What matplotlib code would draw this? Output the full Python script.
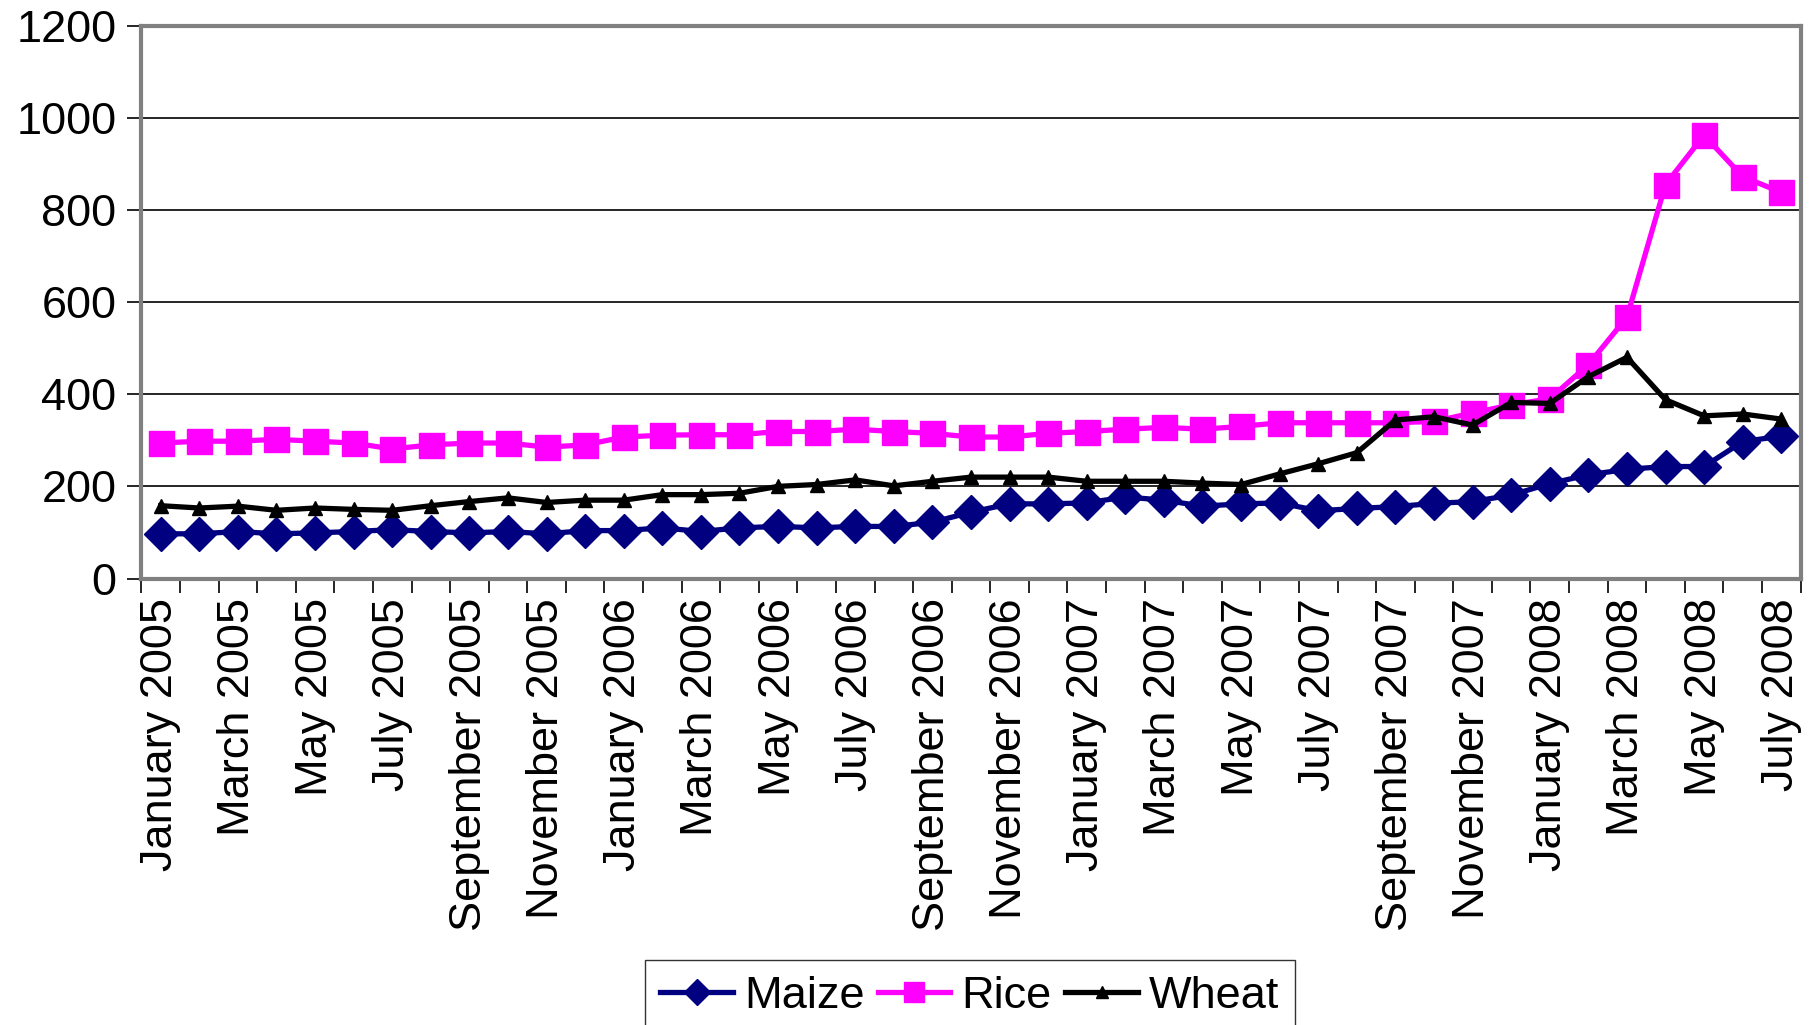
import numpy as np
import matplotlib
matplotlib.use("Agg")
import matplotlib.pyplot as plt

plt.rcParams['font.family'] = ['Liberation Sans', 'DejaVu Sans']

month_names = ["January", "February", "March", "April", "May", "June", "July",
               "August", "September", "October", "November", "December"]
months = [f"{m} {y}" for y in (2005, 2006, 2007, 2008) for m in month_names][:43]

maize = [97, 97, 102, 97, 99, 102, 106, 102, 99, 102, 97, 104, 104, 110,
         102, 110, 113, 110, 113, 113, 122, 144, 162, 162, 164, 177, 170, 157,
         162, 164, 147, 152, 156, 163, 167, 181, 206, 225, 237, 243, 243, 297, 309]
rice = [294, 298, 298, 302, 298, 294, 281, 290, 294, 294, 285, 290, 307, 311,
        312, 312, 319, 319, 324, 319, 315, 307, 307, 315, 319, 324, 328, 324,
        330, 338, 338, 338, 338, 341, 359, 377, 390, 464, 567, 855, 962, 872, 838]
wheat = [158, 153, 157, 148, 153, 150, 148, 158, 167, 175, 165, 170, 170, 182,
         182, 185, 200, 204, 214, 201, 211, 220, 220, 220, 211, 211, 211, 207,
         204, 227, 249, 273, 344, 351, 333, 382, 380, 438, 480, 388, 353, 357, 346]

x = np.arange(len(months))

fig = plt.figure(figsize=(18.18, 10.25), dpi=100)
ax = fig.add_axes([0.0778, 0.4356, 0.9126, 0.5395])

ax.plot(x, maize, color='#000080', lw=3.8, marker='D', ms=17, label='Maize')
ax.plot(x, rice, color='#FF00FF', lw=3.8, marker='s', ms=18, label='Rice')
ax.plot(x, wheat, color='black', lw=3.8, marker='^', ms=10, label='Wheat')

ax.set_xlim(-0.5, len(months) - 0.5)
ax.set_ylim(0, 1200)
ax.set_yticks(range(0, 1201, 200))
ax.grid(axis='y', color='black', lw=1.2)
ax.set_axisbelow(True)

# labels on every other month, tick marks between months
ax.set_xticks(x[::2])
ax.set_xticklabels(months[::2], rotation=90, va='top', ha='center')
ax.set_xticks(np.arange(-0.5, len(months), 1), minor=True)
ax.tick_params(axis='x', which='major', length=0, pad=14, labelsize=32.5)
ax.tick_params(axis='x', which='minor', length=10, width=1.2, direction='out')
ax.tick_params(axis='y', length=10, width=1.2, labelsize=32.5, pad=8)

for s in ax.spines.values():
    s.set_color('#808080')
    s.set_linewidth(3)

fig.legend(loc='upper center', bbox_to_anchor=(0.5335, 0.0634), ncol=3,
           fontsize=32.5, frameon=True, fancybox=False, edgecolor='black',
           handlelength=1.6, handletextpad=0.25, columnspacing=0.3,
           markerscale=0.8, borderpad=0.35, borderaxespad=0)

fig.savefig('out.png', dpi=100)
